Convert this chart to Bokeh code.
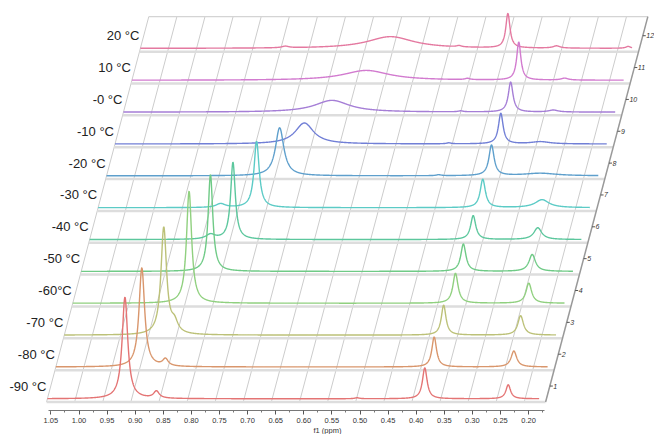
import numpy as np
from bokeh.plotting import figure
from bokeh.models import Range1d, FixedTicker, NumeralTickFormatter
from bokeh.core.properties import value
from bokeh.embed import file_html
from bokeh.resources import INLINE

# ---------------- data ----------------
temps = ["-90 °C", "-80 °C", "-70 °C", "-60°C", "-50 °C", "-40 °C",
         "-30 °C", "-20 °C", "-10 °C", "-0 °C", "10 °C", "20 °C"]
depth_labels = ["1", "2", "3", "4", "5", "6", "7", "8", "9", "10", "11", "12"]

# main (left) resonance per spectrum: position (ppm), height (row units), FWHM (ppm)
ppm_a = [0.912, 0.897, 0.873, 0.843, 0.820, 0.795, 0.768, 0.742, 0.713, 0.679, 0.633, 0.605]
h_a = [3.19, 3.11, 3.36, 3.52, 3.04, 2.42, 2.08, 1.51, 0.66, 0.37, 0.31, 0.37]
w_a = [0.012, 0.012, 0.012, 0.011, 0.010, 0.010, 0.011, 0.018, 0.040, 0.075, 0.100, 0.100]

# sharp resonance near 0.37 ppm
ppm_b = [0.3785, 0.3768, 0.375, 0.369, 0.370, 0.3675, 0.3655, 0.365, 0.3635, 0.361, 0.3616, 0.396]
h_b = [0.97, 0.94, 0.94, 0.94, 0.86, 0.75, 0.89, 0.96, 0.96, 0.94, 1.19, 1.08]
w_b = [0.010, 0.010, 0.010, 0.011, 0.011, 0.011, 0.011, 0.011, 0.010, 0.010, 0.009, 0.009]

# resonance near 0.24 ppm
ppm_c = [0.230, 0.235, 0.238, 0.2385, 0.2475, 0.2526, 0.260, 0.278, 0.293, 0.285, 0.280, 0.3095]
h_c = [0.44, 0.50, 0.61, 0.63, 0.53, 0.37, 0.25, 0.08, 0.07, 0.06, 0.06, 0.07]
w_c = [0.010, 0.012, 0.012, 0.012, 0.014, 0.017, 0.030, 0.070, 0.040, 0.020, 0.015, 0.015]

# minor bumps / shoulders
minor_row = [0, 0, 1, 2, 5, 6, 7, 8, 9, 10, 11, 11, 11]
minor_ppm = [0.856, 0.499, 0.855, 0.854, 0.835, 0.832, 0.459, 0.456, 0.450, 0.453, 0.483, 0.792, 0.182]
minor_h = [0.22, 0.03, 0.22, 0.33, 0.15, 0.12, 0.03, 0.03, 0.03, 0.04, 0.04, 0.05, 0.06]
minor_w = [0.012, 0.010, 0.012, 0.015, 0.020, 0.020, 0.010, 0.010, 0.010, 0.010, 0.010, 0.015, 0.010]

x_ticks = [1.05, 1.00, 0.95, 0.90, 0.85, 0.80, 0.75, 0.70, 0.65, 0.60,
           0.55, 0.50, 0.45, 0.40, 0.35, 0.30, 0.25, 0.20]

row_colors = ["#e47474", "#d9966c", "#bcc178", "#90d07f", "#6fca86", "#5cc79d",
              "#5ccbc6", "#5e9fcc", "#717fd6", "#a57ed6", "#d27bcf", "#e479a0"]

# ---------------- geometry / style ----------------
PX_PER_PPM = 562.0
PX_PER_ROW = 31.85
ROW_SHIFT = 8.45 / PX_PER_PPM      # skew of each stacked row (ppm per row unit)
D0 = 3.5 / PX_PER_PPM              # offset of the stack relative to the ppm axis
FLOOR = -0.1
TOP = 12.0
AXIS_PPM = 0.162
SPEC_LEFT, SPEC_RIGHT = 1.05, 0.175
FW, FH = 654, 410
AXIS_X_AT_105 = 50.4               # pixel column of 1.05 ppm on the axis
ROW0_Y = 398.3                     # pixel row of the first spectrum's baseline


def skew(ppm, yv):
    return ppm + D0 - yv * ROW_SHIFT


def lorentz(x, c, h, w):
    g = w / 2.0
    return h * g * g / ((x - c) ** 2 + g * g)


y0 = -(FH - ROW0_Y) / PX_PER_ROW
p = figure(frame_width=FW, frame_height=FH,
           x_range=Range1d(1.05 + AXIS_X_AT_105 / PX_PER_PPM,
                           1.05 - (FW - AXIS_X_AT_105) / PX_PER_PPM),
           y_range=Range1d(y0, y0 + FH / PX_PER_ROW),
           output_backend="svg", toolbar_location=None, y_axis_location=None,
           min_border_left=0, min_border_right=0, min_border_top=0, min_border_bottom=0,
           background_fill_color="white", border_fill_color="white")
p.outline_line_color = None
p.xgrid.visible = False
p.ygrid.visible = False

ax = p.xaxis[0]
ax.ticker = FixedTicker(ticks=x_ticks,
                        minor_ticks=[t - 0.025 for t in x_ticks] + [x_ticks[0]])
ax.formatter = NumeralTickFormatter(format="0.00")
ax.bounds = (0.172, 1.055)
ax.axis_line_color = "#777777"
ax.major_tick_line_color = "#555555"
ax.minor_tick_line_color = "#777777"
ax.major_tick_in = 0
ax.major_tick_out = 4
ax.minor_tick_in = 0
ax.minor_tick_out = 2
ax.major_label_standoff = 3
ax.major_label_text_font = "Liberation Sans"
ax.major_label_text_font_size = "7.5px"
ax.major_label_text_color = "#333333"
ax.axis_label = "f1 (ppm)"
ax.axis_label_standoff = 0
ax.axis_label_text_font = "Liberation Sans"
ax.axis_label_text_font_size = "7.5px"
ax.axis_label_text_font_style = "normal"
ax.axis_label_text_color = "#333333"

n = len(temps)

# slanted grid lines
gx0 = [skew(g, FLOOR) for g in x_ticks]
gx1 = [skew(g, TOP) for g in x_ticks]
p.segment(x0=gx0, y0=[FLOOR] * len(x_ticks), x1=gx1, y1=[TOP] * len(x_ticks),
          line_color="#cccccc", line_width=1)

# floor line of each row + top edge
fy = [i + FLOOR for i in range(n)]
p.segment(x0=[skew(SPEC_LEFT, y) for y in fy], y0=fy,
          x1=[skew(AXIS_PPM, y) for y in fy], y1=fy,
          line_color="#dddddd", line_width=2.5)
p.segment(x0=[skew(SPEC_LEFT, TOP)], y0=[TOP], x1=[skew(AXIS_PPM, TOP)], y1=[TOP],
          line_color="#d4d4d4", line_width=1.2)

# slanted depth axis on the right
p.segment(x0=[skew(AXIS_PPM, FLOOR)], y0=[FLOOR], x1=[skew(AXIS_PPM, TOP)], y1=[TOP],
          line_color="#999999", line_width=1.5)
ty = [i + 0.4 for i in range(n)]
tx0 = [skew(AXIS_PPM, y) for y in ty]
tx1 = [x - 3.0 / PX_PER_PPM for x in tx0]
p.segment(x0=tx0, y0=ty, x1=tx1, y1=ty, line_color="#555555", line_width=1)
p.text(x=[x - 0.5 / PX_PER_PPM for x in tx1], y=ty, text=depth_labels,
       text_font=value("Liberation Sans"), text_font_size="7px",
       text_font_style="italic", text_color="#333333",
       text_align="left", text_baseline="middle")

# spectra (drawn top row first so lower rows are on top)
xs = np.linspace(SPEC_LEFT, SPEC_RIGHT, 1800)
for i in reversed(range(n)):
    ys = np.full_like(xs, float(i))
    ys += lorentz(xs, ppm_a[i], h_a[i], w_a[i])
    ys += lorentz(xs, ppm_b[i], h_b[i], w_b[i])
    ys += lorentz(xs, ppm_c[i], h_c[i], w_c[i])
    for r, c, h, w in zip(minor_row, minor_ppm, minor_h, minor_w):
        if r == i:
            ys += lorentz(xs, c, h, w)
    p.line(x=skew(xs, i), y=ys, line_color=row_colors[i], line_width=1.4)

# temperature labels
p.text(x=[skew(SPEC_LEFT, i) for i in range(n)], y=ty, text=temps, x_offset=-1,
       text_font=value("Liberation Sans"), text_font_size="13px",
       text_color="#222222", text_align="right", text_baseline="middle")

open("out.html", "w").write(file_html(p, INLINE))
